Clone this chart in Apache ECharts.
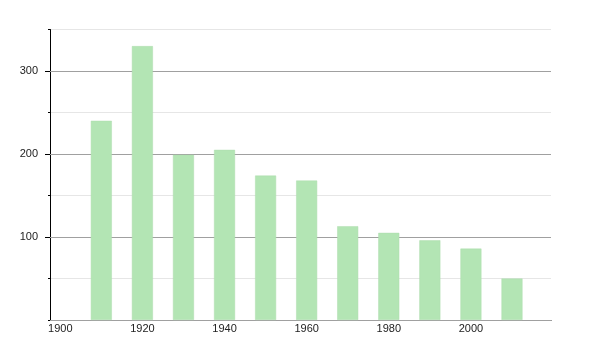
<!DOCTYPE html>
<html>
<head>
<meta charset="utf-8">
<script src="https://cdn.jsdelivr.net/npm/echarts@6/dist/echarts.min.js"></script>
<style>html,body{margin:0;padding:0;background:#fff}#c{width:600px;height:350px}</style>
</head>
<body>
<div id="c"></div>
<script>
var years = [1910, 1920, 1930, 1940, 1950, 1960, 1970, 1980, 1990, 2000, 2010];
var population = [240, 330, 199, 205, 174, 168, 113, 105, 96, 86, 50];
var xTickLabels = [1900, 1920, 1940, 1960, 1980, 2000];
var yTickLabels = [100, 200, 300];

var chart = echarts.init(document.getElementById('c'), null, {renderer: 'canvas'});
chart.setOption({
  animation: false,
  backgroundColor: '#ffffff',
  textStyle: {fontFamily: 'Liberation Sans, Arial, sans-serif'},
  grid: {left: 50, right: 49, top: 29.5, bottom: 30, containLabel: false},
  xAxis: {
    type: 'value',
    min: 1897.5,
    max: 2019.5,
    axisLine: {show: true, lineStyle: {color: '#000', width: 1}},
    axisTick: {show: false},
    splitLine: {show: false},
    axisLabel: {
      customValues: xTickLabels,
      color: '#222',
      fontSize: 11,
      margin: 3,
      formatter: function (v) { return String(v); }
    }
  },
  yAxis: [{
    type: 'value',
    min: 0,
    max: 350,
    interval: 50,
    z: 1,
    axisLine: {show: true, lineStyle: {color: '#000', width: 1}},
    axisTick: {show: true, length: 2, lineStyle: {color: '#000'}},
    axisLabel: {
      color: '#222',
      fontSize: 11,
      margin: 12,
      formatter: function (v) { return yTickLabels.indexOf(v) >= 0 ? String(v) : ''; }
    },
    splitLine: {show: true, lineStyle: {color: '#e6e6e6', width: 1}}
  }, {
    type: 'value',
    min: 0,
    max: 350,
    interval: 100,
    position: 'left',
    z: 2,
    axisLine: {show: false},
    axisTick: {show: false},
    axisLabel: {show: false},
    splitLine: {show: true, showMaxLine: false, lineStyle: {color: '#a0a0a0', width: 1}}
  }, {
    type: 'value',
    min: 0,
    max: 350,
    position: 'left',
    axisLine: {show: false},
    axisTick: {show: true, customValues: yTickLabels, length: 5, lineStyle: {color: '#000'}},
    axisLabel: {show: false},
    splitLine: {show: false}
  }],
  series: [{
    type: 'bar',
    yAxisIndex: 0,
    barWidth: 21,
    z: 3,
    data: years.map(function (y, i) { return [y, population[i]]; }),
    itemStyle: {color: '#b3e5b4', borderColor: '#aedcaf', borderWidth: 0.5}
  }]
});
</script>
</body>
</html>
